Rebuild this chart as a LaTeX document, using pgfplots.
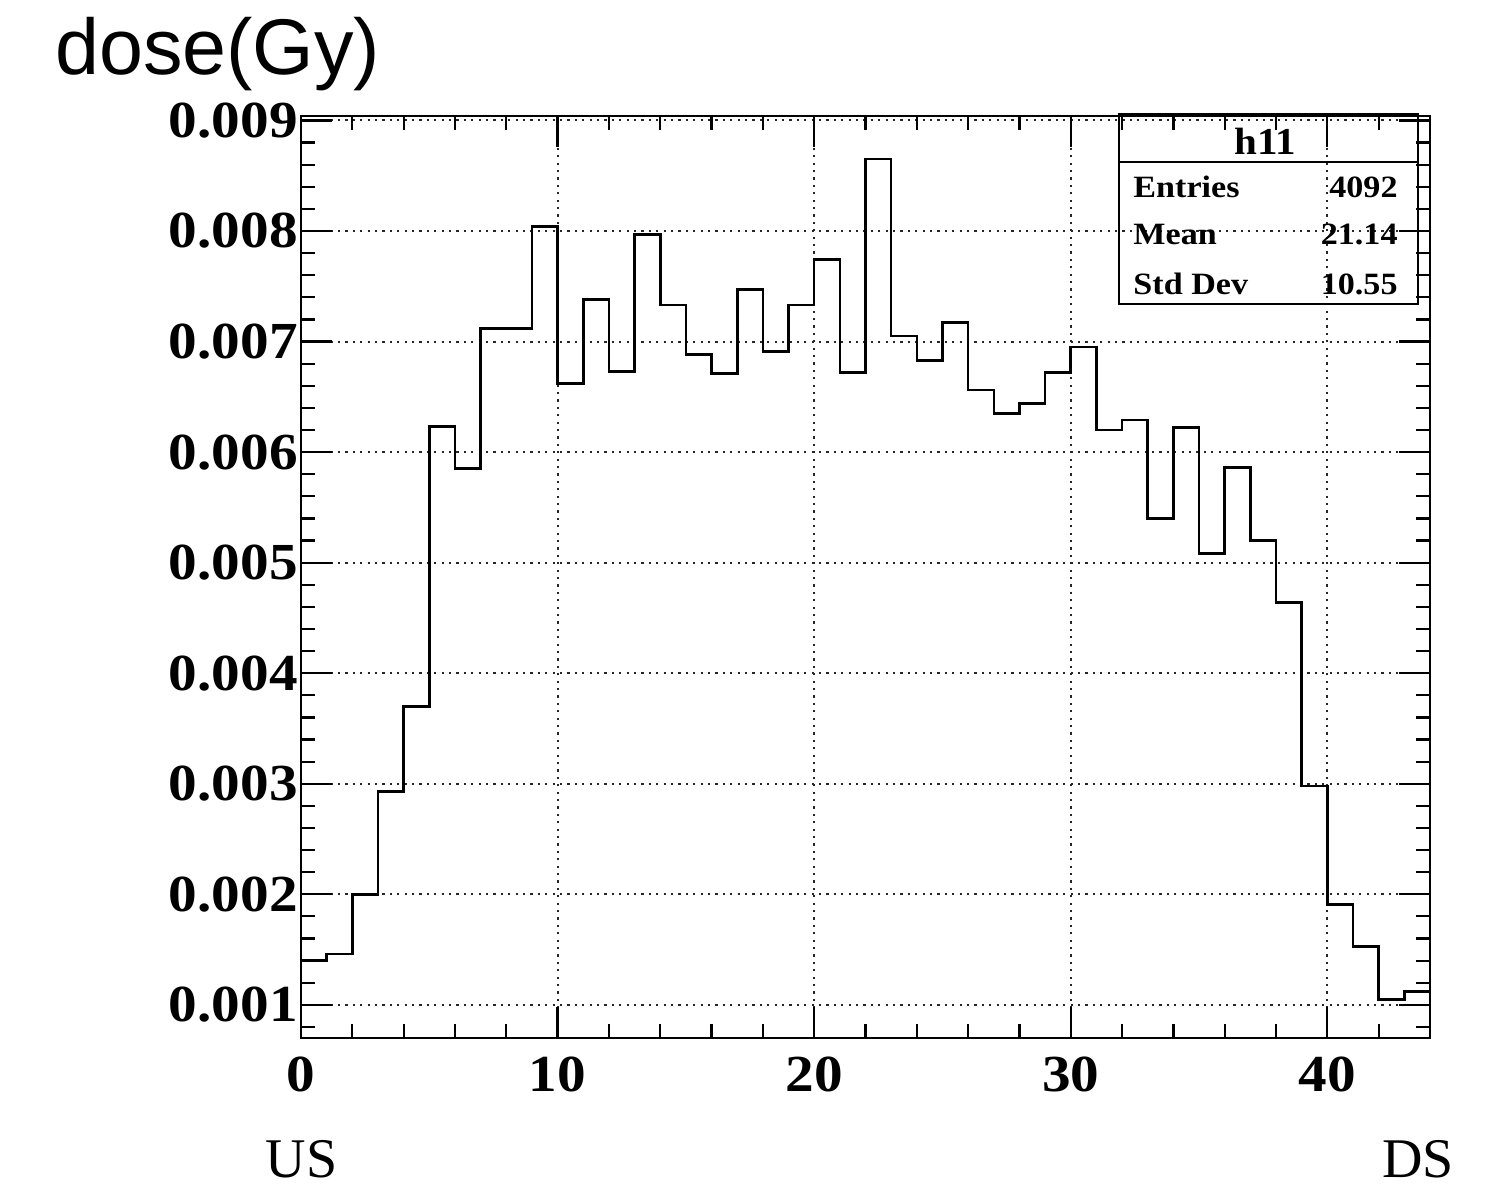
\documentclass[border=0pt]{standalone}
\usepackage{pgfplots}
\pgfplotsset{compat=1.18}
\usepackage{fontspec}
\setmainfont{Liberation Serif}
\newfontfamily\sansf{Liberation Sans}
\begin{document}
\begin{tikzpicture}
\path[use as bounding box] (0,0) rectangle (743pt,594pt);
\begin{axis}[
  at={(150.5pt,75pt)}, anchor=south west,
  scale only axis, width=564.5pt, height=461pt,
  xmin=0, xmax=44, ymin=0.0007, ymax=0.00904,
  xtick={0,10,20,30,40},
  minor xtick={2,4,6,8,12,14,16,18,22,24,26,28,32,34,36,38,42},
  ytick={0.001,0.002,0.003,0.004,0.005,0.006,0.007,0.008,0.009},
  minor ytick={0.0008,0.0012,0.0014,0.0016,0.0018,0.0022,0.0024,0.0026,0.0028,0.0032,0.0034,0.0036,0.0038,0.0042,0.0044,0.0046,0.0048,0.0052,0.0054,0.0056,0.0058,0.0062,0.0064,0.0066,0.0068,0.0072,0.0074,0.0076,0.0078,0.0082,0.0084,0.0086,0.0088},
  scaled y ticks=false,
  yticklabel style={/pgf/number format/fixed,/pgf/number format/precision=3,/pgf/number format/fixed zerofill},
  /pgf/number format/assume math mode=true,
  tick label style={font=\fontsize{26}{26}\selectfont\bfseries, xscale=1.1},
  xticklabel style={yshift=-6pt},
  yticklabel style={xshift=2pt},
  tick align=inside,
  major tick length=15.5pt, minor tick length=7pt,
  every tick/.style={black, line width=1.1pt},
  axis line style={line width=1.2pt},
  grid=major,
  major grid style={black!85, line width=1pt, dash pattern=on 1.1pt off 2.6pt},
]
\addplot[const plot mark left, black, line width=1.3pt] coordinates {
(0,0.00140) (1,0.00146) (2,0.00200) (3,0.00293) (4,0.00370)
(5,0.00623) (6,0.00585) (7,0.00712) (8,0.00712) (9,0.00804)
(10,0.00662) (11,0.00738) (12,0.00673) (13,0.00797) (14,0.00733)
(15,0.00688) (16,0.00671) (17,0.00747) (18,0.00691) (19,0.00733)
(20,0.00774) (21,0.00672) (22,0.00865) (23,0.00705) (24,0.00683)
(25,0.00717) (26,0.00656) (27,0.00635) (28,0.00644) (29,0.00672)
(30,0.00695) (31,0.00620) (32,0.00629) (33,0.00540) (34,0.00622)
(35,0.00508) (36,0.00586) (37,0.00520) (38,0.00464) (39,0.00298)
(40,0.00191) (41,0.00153) (42,0.00105) (43,0.00112) (44,0.00112)
};
\end{axis}
% stats box
\draw[line width=1pt] (559.5pt,442pt) rectangle (709pt,537pt);
\draw[line width=1pt] (559.5pt,513pt) -- (709pt,513pt);
\node[anchor=base, font=\fontsize{19}{19}\selectfont\bfseries, inner sep=0pt, xscale=1.08] at (632.5pt,516.5pt) {h11};
\begin{scope}[every node/.style={font=\fontsize{15.5}{15.5}\selectfont\bfseries, inner sep=0pt, xscale=1.1}]
\node[anchor=base west] at (566.5pt,495pt) {Entries};
\node[anchor=base east] at (699pt,495pt) {4092};
\node[anchor=base west] at (566.5pt,471.5pt) {Mean};
\node[anchor=base east] at (699pt,471.5pt) {21.14};
\node[anchor=base west] at (566.5pt,446.5pt) {Std Dev};
\node[anchor=base east] at (699pt,446.5pt) {10.55};
\end{scope}
\node[anchor=base west, inner sep=0pt, font=\sansf\fontsize{39.5}{39.5}\selectfont] at (27.5pt,556.5pt) {dose(Gy)};
\node[anchor=base, inner sep=0pt, font=\fontsize{28}{28}\selectfont] at (150.75pt,5.5pt) {US};
\node[anchor=base, inner sep=0pt, font=\fontsize{28}{28}\selectfont] at (709pt,5.5pt) {DS};
\end{tikzpicture}
\end{document}
